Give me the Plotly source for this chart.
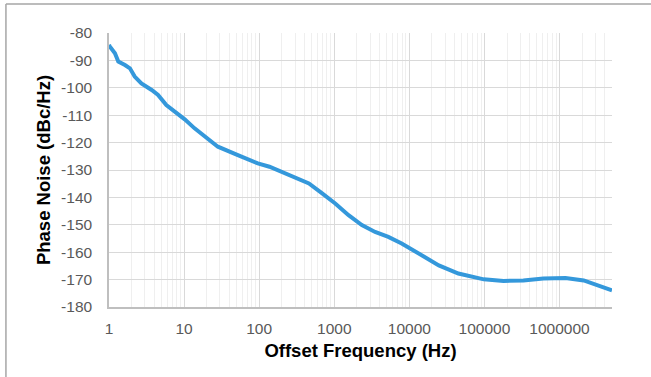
import plotly.graph_objects as go
import numpy as np

freq_hz = [1, 1.03, 1.2, 1.33, 1.63, 1.9, 2.2, 2.7, 3.7, 4.5, 5.8, 7.5, 10.2, 13.8, 18.8,
           28.2, 52, 75, 96, 137, 250, 460, 690, 1030, 1550, 2330, 3500, 5250, 7900,
           11800, 13600, 24700, 45000, 98000, 180000, 330000, 610000, 1.2e6, 2.1e6,
           3.3e6, 5e6]
phase_noise = [-84.3, -85, -87.4, -90.4, -91.7, -92.9, -95.9, -98.4, -100.8, -102.6,
               -106.3, -108.7, -111.5, -114.8, -117.9, -121.5, -124.6, -126.4, -127.6,
               -128.8, -131.8, -134.9, -138.5, -142.2, -146.5, -150.1, -152.6, -154.4,
               -156.8, -159.6, -160.6, -164.8, -167.8, -169.9, -170.5, -170.3, -169.6,
               -169.4, -170.3, -172.1, -173.9]

x_tick_vals = [1, 10, 100, 1000, 10000, 100000, 1000000]
x_tick_text = ["1", "10", "100", "1000", "10000", "100000", "1000000"]
y_tick_vals = list(range(-180, -79, 10))
y_tick_text = [str(v) for v in y_tick_vals]

minor_vals = [m * 10 ** d for d in range(0, 7) for m in range(2, 10) if m * 10 ** d <= 5e6]

fig = go.Figure()
fig.add_trace(go.Scatter(x=freq_hz, y=phase_noise, mode="lines",
                         line=dict(color="#3498db", width=4),
                         showlegend=False, hoverinfo="skip"))

L, R, T, B = 109, 39.3, 33, 70.3
W, H = 651, 377
pw = W - L - R
ph = H - T - B
px = lambda p: (p - L) / pw
py = lambda p: (H - B - p) / ph

fig.update_layout(
    width=W, height=H,
    margin=dict(l=L, r=R, t=T, b=B),
    paper_bgcolor="white", plot_bgcolor="white",
    font=dict(family="Liberation Sans, Arial, sans-serif", size=15.5, color="#595959"),
    xaxis=dict(type="log", range=[0, np.log10(5e6)], tickvals=x_tick_vals, ticktext=x_tick_text,
               showgrid=True, gridcolor="#d9d9d9", gridwidth=1,
               minor=dict(tickvals=minor_vals, showgrid=True, gridcolor="#efefef", gridwidth=1),
               showline=True, linecolor="#bfbfbf", linewidth=1.5, ticks="outside",
               ticklen=7, tickcolor="rgba(0,0,0,0)", zeroline=False, automargin=False,
               title=dict(text="<b>Offset Frequency (Hz)</b>", font=dict(size=18.5, color="black"), standoff=8)),
    yaxis=dict(range=[-180, -80], tickvals=y_tick_vals, ticktext=y_tick_text,
               showgrid=True, gridcolor="#d9d9d9", gridwidth=1,
               showline=True, linecolor="#bfbfbf", linewidth=1.5, ticks="outside",
               ticklen=12, tickcolor="rgba(0,0,0,0)", zeroline=False, automargin=False,
               title=dict(text="<b>Phase Noise (dBc/Hz)</b>", font=dict(size=18.5, color="black"), standoff=6)),
    shapes=[
        dict(type="line", xref="paper", yref="paper", x0=px(6), x1=px(660), y0=py(4), y1=py(4),
             line=dict(color="#a6a6a6", width=1.5)),
        dict(type="line", xref="paper", yref="paper", x0=px(6), x1=px(6), y0=py(4), y1=py(390),
             line=dict(color="#a6a6a6", width=1.5)),
    ],
)

fig.write_html("out.html", config={"displayModeBar": False},
               post_script="document.body.style.margin='0px';document.body.style.overflow='hidden';")
